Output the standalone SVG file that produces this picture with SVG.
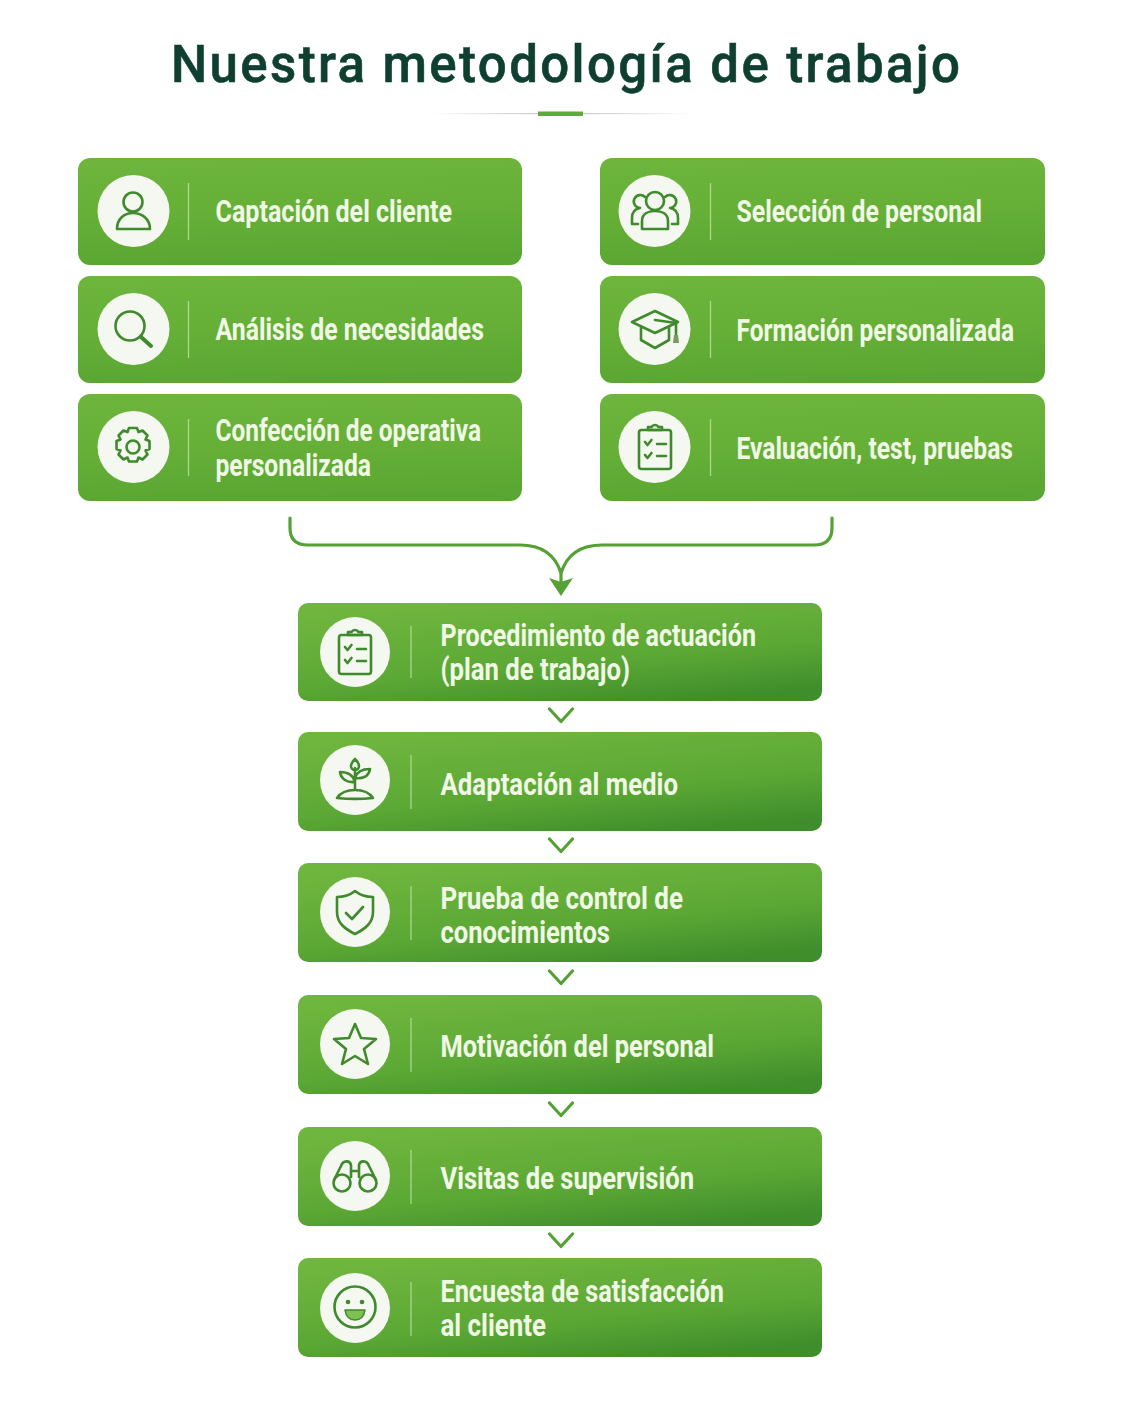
<svg xmlns="http://www.w3.org/2000/svg" width="1122" height="1402" viewBox="0 0 1122 1402">
<style>
.t{font-family:"Roboto","Liberation Sans",sans-serif;font-size:31px;font-weight:700;fill:#f1f8e6}
.h{font-family:"Roboto","Liberation Sans",sans-serif;font-size:51px;font-weight:500;fill:#0f3f30;stroke:#0f3f30;stroke-width:.6}
.c{fill:#f5f7f1}
.d{stroke:#a9d98a;stroke-width:1.3;fill:none}
.i{fill:none;stroke:#3f8a2c;stroke-width:2.6;stroke-linecap:round;stroke-linejoin:round}
.a{fill:none;stroke:#55a136;stroke-width:3.200;stroke-linecap:round;stroke-linejoin:round}
</style>
<defs>
<linearGradient id="g1" x1="0.2" y1="0" x2="0.3" y2="1"><stop offset="0" stop-color="#6db53d"/><stop offset="0.5" stop-color="#66b038"/><stop offset="1" stop-color="#5aa632"/></linearGradient>
<linearGradient id="g2" x1="0.25" y1="0" x2="0.75" y2="1"><stop offset="0" stop-color="#6fb63e"/><stop offset="0.6" stop-color="#5ca835"/><stop offset="1" stop-color="#3f8d2b"/></linearGradient>
<linearGradient id="r" x1="0" x2="1"><stop offset="0" stop-color="#ccc" stop-opacity="0"/><stop offset="0.4" stop-color="#ccc"/><stop offset="0.6" stop-color="#ccc"/><stop offset="1" stop-color="#ccc" stop-opacity="0"/></linearGradient>
<g id="clip"><rect x="-16" y="-17" width="32" height="39" rx="2.5"/><path d="M-7 -17v-3h3.5a4 4 0 0 1 7 0H7v3zM-10 -5l2.500 3 4-5M-10 8l2.500 3 4-5M2 -3h9M2 9h9"/></g>
</defs>
<rect width="1122" height="1402" fill="#fff"/>
<g id="title">
<text class="h" x="171" y="82" textLength="789" lengthAdjust="spacing">Nuestra metodología de trabajo</text>
<rect x="430" y="113" width="262" height="1.2" fill="url(#r)"/>
<rect x="538" y="111.500" width="45" height="4.500" fill="#5fa83a"/>
</g>
<g id="connectors">
<path class="a" d="M290 518v10q0 17 18 17H520q32 0 41 28M832 518v10q0 17-18 17H602q-32 0-41 28"/>
<path class="a" d="M561 570v14"/>
<path d="M549 578 561 582 573 578 561 596z" fill="#55a136"/>
<path class="a" d="M549.500 709l11.500 12.500 11.500-12.500M549.500 839l11.500 12.500 11.500-12.500M549.500 971l11.500 12.500 11.500-12.500M549.500 1103l11.500 12.500 11.500-12.500M549.500 1234l11.500 12.500 11.500-12.500"/>
</g>
<g id="n1"><rect x="78" y="158" width="444" height="107" rx="12" fill="url(#g1)"/><circle class="c" cx="133.500" cy="211" r="36"/><path class="d" d="M188.500 183v57"/><path class="i" d="M117 229c0-10 7-16 16-16s17 6 17 16z"/><circle class="i" cx="133" cy="202" r="9.500"/><text class="t" x="215.500" y="222" textLength="236.500" lengthAdjust="spacingAndGlyphs">Captación del cliente</text></g>
<g id="n2"><rect x="78" y="276" width="444" height="107" rx="12" fill="url(#g1)"/><circle class="c" cx="133.500" cy="329" r="36"/><path class="d" d="M188.500 301v57"/><circle class="i" cx="130" cy="326" r="14.500"/><path class="i" d="M141 337l10 9" style="stroke-width:4"/><text class="t" x="215.500" y="340" textLength="268.500" lengthAdjust="spacingAndGlyphs">Análisis de necesidades</text></g>
<g id="n3"><rect x="78" y="394" width="444" height="107" rx="12" fill="url(#g1)"/><circle class="c" cx="133.500" cy="447" r="36"/><path class="d" d="M188.500 419v57"/><circle class="i" cx="133" cy="447" r="6.500"/><path class="i" d="M129 428h8l1.500 4 4-1.500 5 5-2 4 4 1.500v8l-4 1.500 2 4-5 5-4-2-1.500 4h-8l-1.500-4-4 2-5-5 2-4-4-1.500v-8l4-1.500-2-4 5-5 4 1.500z"/><text class="t" x="215.500" y="441" textLength="265.500" lengthAdjust="spacingAndGlyphs">Confección de operativa</text><text class="t" x="215.500" y="476" textLength="155.500" lengthAdjust="spacingAndGlyphs">personalizada</text></g>
<g id="n4"><rect x="600" y="158" width="445" height="107" rx="12" fill="url(#g1)"/><circle class="c" cx="654.500" cy="211" r="36"/><path class="d" d="M710.500 183v57"/><circle class="i" cx="655" cy="201" r="9"/><path class="i" d="M642 229v-8c0-7 6-10 13-10s13 3 13 10v8z"/><path class="i" d="M645 197a6.500 6.500 0 1 0-5 11c-6 1-8 5-8 10v6h6M665 197a6.500 6.500 0 1 1 5 11c6 1 8 5 8 10v6h-6"/><text class="t" x="736.500" y="222" textLength="245.500" lengthAdjust="spacingAndGlyphs">Selección de personal</text></g>
<g id="n5"><rect x="600" y="276" width="445" height="107" rx="12" fill="url(#g1)"/><circle class="c" cx="654.500" cy="329" r="36"/><path class="d" d="M710.500 301v57"/><path class="i" d="M655 311l23 11-23 11-23-11zM641 327v13l14 8 14-8v-13M655 320l21 3v12"/><path d="M674 335h4l1 8h-6z" fill="#7a9a60"/><text class="t" x="736.500" y="341" textLength="277.500" lengthAdjust="spacingAndGlyphs">Formación personalizada</text></g>
<g id="n6"><rect x="600" y="394" width="445" height="107" rx="12" fill="url(#g1)"/><circle class="c" cx="654.500" cy="447" r="36"/><path class="d" d="M710.500 419v57"/><use href="#clip" class="i" x="655" y="447"/><text class="t" x="736.500" y="459" textLength="276.500" lengthAdjust="spacingAndGlyphs">Evaluación, test, pruebas</text></g>
<g id="n7"><rect x="298" y="603" width="524" height="98" rx="10" fill="url(#g2)"/><circle class="c" cx="355" cy="652" r="35"/><path class="d" d="M411 626v52"/><use href="#clip" class="i" x="355" y="652"/><text class="t" x="440.500" y="646" textLength="315.500" lengthAdjust="spacingAndGlyphs">Procedimiento de actuación</text><text class="t" x="440.500" y="680" textLength="189.500" lengthAdjust="spacingAndGlyphs">(plan de trabajo)</text></g>
<g id="n8"><rect x="298" y="732" width="524" height="99" rx="10" fill="url(#g2)"/><circle class="c" cx="355" cy="780" r="35"/><path class="d" d="M411 755v54"/><path class="i" d="M337 798c4-6 12-8 18-8s14 2 18 8c-10 1-26 1-36 0zM355 790v-22M355 782c-2-8-8-10-15-10 1 7 7 11 15 10zM355 778c2-7 8-9 15-9-1 7-7 10-15 9zM355 759c-3 3-4 5-4 7a4 4 0 0 0 8 0c0-2-1-4-4-7z"/><text class="t" x="440.500" y="795" textLength="237.500" lengthAdjust="spacingAndGlyphs">Adaptación al medio</text></g>
<g id="n9"><rect x="298" y="863" width="524" height="99" rx="10" fill="url(#g2)"/><circle class="c" cx="355" cy="912" r="35"/><path class="d" d="M411 886v54"/><path class="i" d="M355 891c5 4 12 6 18 6v15c0 11-8 17-18 22-10-5-18-11-18-22v-15c6 0 13-2 18-6z"/><path class="i" d="M346 913l6 6 11-12"/><text class="t" x="440.500" y="909" textLength="242.500" lengthAdjust="spacingAndGlyphs">Prueba de control de</text><text class="t" x="440.500" y="943" textLength="169.500" lengthAdjust="spacingAndGlyphs">conocimientos</text></g>
<g id="n10"><rect x="298" y="995" width="524" height="99" rx="10" fill="url(#g2)"/><circle class="c" cx="355" cy="1044" r="35"/><path class="d" d="M411 1018v54"/><path class="i" d="M355 1024l6 14 15 1-12 10 4 15-13-8-13 8 4-15-12-10 15-1z"/><text class="t" x="440.500" y="1057" textLength="273.500" lengthAdjust="spacingAndGlyphs">Motivación del personal</text></g>
<g id="n11"><rect x="298" y="1127" width="524" height="99" rx="10" fill="url(#g2)"/><circle class="c" cx="355" cy="1176" r="35"/><path class="d" d="M411 1150v54"/><circle class="i" cx="342" cy="1183" r="8.500"/><circle class="i" cx="368" cy="1183" r="8.500"/><path class="i" d="M334 1180l7-14c2-6 9-6 10-1v6h8v-6c1-5 8-5 10 1l7 14M351 1171v6M359 1171v6"/><text class="t" x="440.500" y="1189" textLength="253.500" lengthAdjust="spacingAndGlyphs">Visitas de supervisión</text></g>
<g id="n12"><rect x="298" y="1258" width="524" height="99" rx="10" fill="url(#g2)"/><circle class="c" cx="355" cy="1308" r="35"/><path class="d" d="M411 1282v54"/><circle class="i" cx="355" cy="1307" r="20.500"/><circle cx="348" cy="1302" r="2.300" fill="#3f8a2c"/><circle cx="362" cy="1302" r="2.300" fill="#3f8a2c"/><path d="M345 1310h20c-1 7-5 10-10 10s-9-3-10-10z" fill="#7cc152" stroke="#3f8a2c" stroke-width="1.500" stroke-linejoin="round"/><text class="t" x="440.500" y="1302" textLength="283.500" lengthAdjust="spacingAndGlyphs">Encuesta de satisfacción</text><text class="t" x="440.500" y="1336" textLength="105.500" lengthAdjust="spacingAndGlyphs">al cliente</text></g>
</svg>
